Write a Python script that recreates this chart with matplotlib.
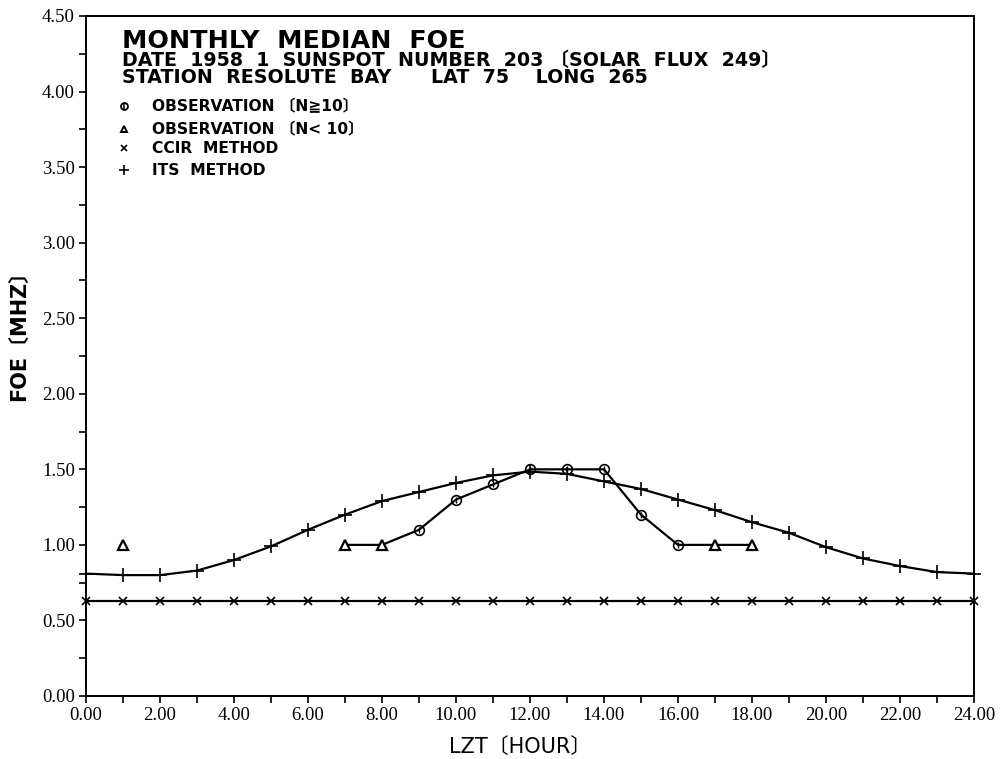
import matplotlib
matplotlib.use("Agg")
import matplotlib.pyplot as plt
from matplotlib.ticker import MultipleLocator, FormatStrFormatter

# Local time (hours)
hours = list(range(0, 25))

# ITS method prediction of foE (MHz)
its_foe = [0.81, 0.80, 0.80, 0.83, 0.90, 0.99, 1.10, 1.20, 1.29, 1.35, 1.41,
           1.46, 1.485, 1.47, 1.42, 1.37, 1.30, 1.23, 1.15, 1.08, 0.985,
           0.91, 0.86, 0.82, 0.81]

# CCIR method prediction of foE (MHz)
ccir_foe = [0.63] * 25

# Observed monthly medians, split by sample count
obs_hours = [7, 8, 9, 10, 11, 12, 13, 14, 15, 16, 17, 18]
obs_foe = [1.00, 1.00, 1.10, 1.30, 1.40, 1.50, 1.50, 1.50, 1.20, 1.00, 1.00, 1.00]
obs_many_hours = [9, 10, 11, 12, 13, 14, 15, 16]
obs_many_foe = [1.10, 1.30, 1.40, 1.50, 1.50, 1.50, 1.20, 1.00]
obs_few_hours = [1, 7, 8, 17, 18]
obs_few_foe = [1.00, 1.00, 1.00, 1.00, 1.00]

title_lines = ["MONTHLY  MEDIAN  FOE",
               "DATE  1958  1  SUNSPOT  NUMBER  203 〔SOLAR  FLUX  249〕",
               "STATION  RESOLUTE  BAY      LAT  75    LONG  265"]
legend_labels = ["OBSERVATION 〔N≧10〕", "OBSERVATION 〔N< 10〕",
                 "CCIR  METHOD", "ITS  METHOD"]

W, H = 1005, 759
fig = plt.figure(figsize=(W / 100, H / 100), dpi=100)
ax = fig.add_axes([86 / W, 1 - 696 / H, (974 - 86) / W, (696 - 16) / H])

sans = ["DejaVu Sans", "Noto Sans CJK JP"]
serif = ["Liberation Serif", "DejaVu Serif"]

lw = 1.6
ax.plot(hours, ccir_foe, color="black", lw=lw, marker="x", ms=6, mew=1.2,
        clip_on=False, zorder=3)
ax.plot(hours, its_foe, color="black", lw=lw, marker="+", ms=10, mew=1.2,
        clip_on=False, zorder=3)
ax.plot(obs_hours, obs_foe, color="black", lw=lw, zorder=4)
ax.plot(obs_many_hours, obs_many_foe, ls="none", marker="o", ms=7,
        mfc="none", mec="black", mew=1.2, zorder=5)
ax.plot(obs_many_hours, obs_many_foe, ls="none", marker="|", ms=5,
        mec="black", mew=1.0, zorder=5)
ax.plot(obs_few_hours, obs_few_foe, ls="none", marker="^", ms=7,
        mfc="white", mec="black", mew=1.6, zorder=5)

ax.set_xlim(0, 24)
ax.set_ylim(0, 4.5)
ax.xaxis.set_major_locator(MultipleLocator(2))
ax.xaxis.set_minor_locator(MultipleLocator(1))
ax.yaxis.set_major_locator(MultipleLocator(0.5))
ax.yaxis.set_minor_locator(MultipleLocator(0.25))
ax.xaxis.set_major_formatter(FormatStrFormatter("%.2f"))
ax.yaxis.set_major_formatter(FormatStrFormatter("%.2f"))
ax.tick_params(which="both", direction="out", length=5, width=1.2,
               color="black", labelsize=13.5, pad=3)
for lab in ax.get_xticklabels() + ax.get_yticklabels():
    lab.set_family(serif)
for s in ax.spines.values():
    s.set_linewidth(1.4)


def fx(px):
    return px / W


def fy(py):
    return 1 - py / H


fig.text(fx(520), fy(753), "LZT〔HOUR〕", family=sans, fontsize=15,
         ha="center", va="baseline")
fig.text(fx(19), fy(330), "FOE〔MHZ〕", family=sans, fontsize=15,
         fontweight="bold", rotation=90, ha="center", va="center")

fig.text(fx(122), fy(48), title_lines[0], family=sans, fontsize=18.3,
         fontweight="bold", va="baseline", ha="left")
fig.text(fx(122), fy(66), title_lines[1], family=sans, fontsize=13.7,
         fontweight="bold", va="baseline", ha="left")
fig.text(fx(122), fy(83), title_lines[2], family=sans, fontsize=13.7,
         fontweight="bold", va="baseline", ha="left")

legend_base = [111, 134, 153, 175]
for lab, yb in zip(legend_labels, legend_base):
    fig.text(fx(152), fy(yb), lab, family=sans, fontsize=11.2,
             fontweight="bold", va="baseline", ha="left")

key_x = fx(124)
key_y = [fy(yb - 5.5) for yb in legend_base]
fig.add_artist(plt.Line2D([key_x], [key_y[0]], marker="o", ms=5, mfc="none",
                          mec="black", mew=1.3, transform=fig.transFigure))
fig.add_artist(plt.Line2D([key_x], [key_y[0]], marker="|", ms=4,
                          mec="black", mew=1.1, transform=fig.transFigure))
fig.add_artist(plt.Line2D([key_x], [key_y[1]], marker="^", ms=5, mfc="white",
                          mec="black", mew=1.4, transform=fig.transFigure))
fig.add_artist(plt.Line2D([key_x], [key_y[2]], marker="x", ms=5,
                          mec="black", mew=1.2, transform=fig.transFigure))
fig.add_artist(plt.Line2D([key_x], [key_y[3]], marker="+", ms=7,
                          mec="black", mew=1.2, transform=fig.transFigure))

fig.savefig("out.png", dpi=100, facecolor="white")
